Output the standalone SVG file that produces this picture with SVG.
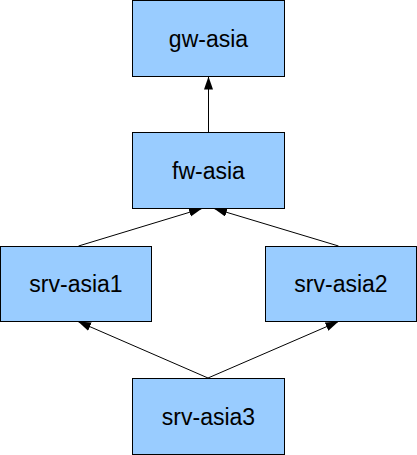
<svg xmlns="http://www.w3.org/2000/svg" width="417" height="455" viewBox="0 0 417 455">
<style>
.n rect{fill:#99ccff;stroke:#000;stroke-width:1}
.n text{font-family:"Liberation Sans",Arial,sans-serif;font-size:23px;fill:#000;text-anchor:middle}
.e line{stroke:#000;stroke-width:1;marker-end:url(#ah)}
</style>
<defs>
<marker id="ah" markerUnits="userSpaceOnUse" markerWidth="15" markerHeight="12" refX="13" refY="4.5" orient="auto">
<path d="M0,0 L13,4.5 L0,9 Z" fill="#000"/>
</marker>
</defs>
<rect width="417" height="455" fill="#fff"/>
<g class="e" id="connectors">
<line x1="208.5" y1="132.5" x2="208.5" y2="76.5"/>
<line x1="78.5" y1="246" x2="202" y2="208.5"/>
<line x1="338.5" y1="246" x2="214" y2="208.5"/>
<line x1="208" y1="378" x2="78" y2="321.5"/>
<line x1="208" y1="378" x2="338.5" y2="321.5"/>
</g>
<g class="n" id="gw-asia"><rect x="132.5" y="0.5" width="152" height="76"/><text x="208.5" y="46.5">gw-asia</text></g>
<g class="n" id="fw-asia"><rect x="132.5" y="132.5" width="152" height="76"/><text x="208.5" y="178.5">fw-asia</text></g>
<g class="n" id="srv-asia1"><rect x="0.5" y="246.5" width="151" height="75"/><text x="76" y="292">srv-asia1</text></g>
<g class="n" id="srv-asia2"><rect x="265.5" y="246.5" width="151" height="75"/><text x="341" y="292">srv-asia2</text></g>
<g class="n" id="srv-asia3"><rect x="132.5" y="378.5" width="152" height="76"/><text x="208.5" y="424.5">srv-asia3</text></g>
</svg>
